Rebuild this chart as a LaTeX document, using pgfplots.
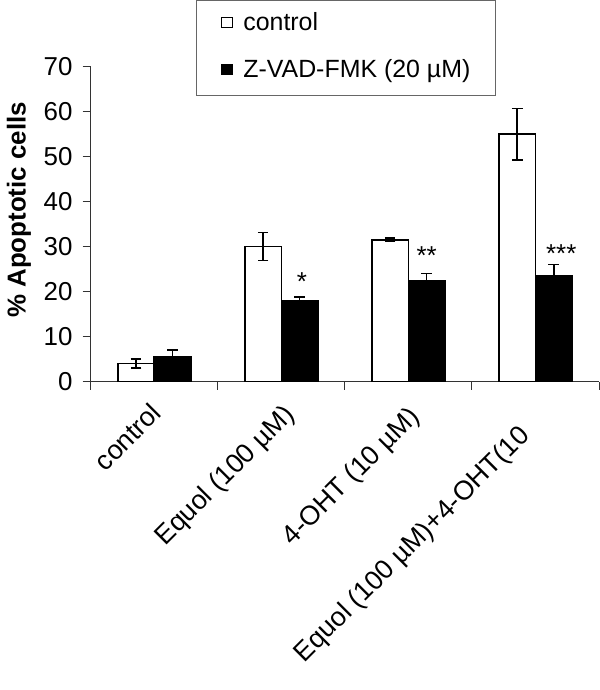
\documentclass[border=0pt]{standalone}
\usepackage{fontspec}
\setmainfont{Liberation Sans}
\usepackage{pgfplots}
\pgfplotsset{compat=1.18}
\begin{document}
\begin{tikzpicture}
\path[use as bounding box] (-90.7bp,-308.5bp) rectangle (509.3bp,381.5bp);
\begin{axis}[
  at={(0,0)}, anchor=south west,
  scale only axis, width=508.3bp, height=314.8bp,
  xmin=0, xmax=4, ymin=0, ymax=70,
  ybar=0pt, bar width=36.5bp,
  axis x line=bottom, axis y line=left,
  axis line style={-, line width=0.9bp, black!80},
  xtick={0,1,2,3,4}, xticklabels={},
  ytick={0,10,...,70},
  tick align=outside, major tick length=8bp,
  tick style={line width=0.9bp, black!80},
  /pgf/number format/assume math mode=true,
  yticklabel style={font=\fontsize{26}{30}\selectfont, inner sep=4bp, xshift=-6bp},
  ylabel={\% Apoptotic cells},
  ylabel style={font=\fontsize{26}{30}\selectfont\bfseries, at={(axis description cs:-0.141,0.545)}, anchor=center},
  clip=false,
  legend cell align=left,
  legend style={at={(axis description cs:0.2072,1.2119)}, anchor=north west,
    draw=black!60, line width=0.8bp, font=\fontsize{25}{29}\selectfont,
    inner xsep=25bp, inner ysep=12.5bp, row sep=24bp,
    nodes={inner sep=0pt, text height=18bp, text depth=5bp}},
  legend image code/.code={\draw[#1, line width=0.9bp] (0bp,-3.5bp) rectangle (10.7bp,7.2bp); \path (20.7bp,0bp);},
  error bars/y dir=both, error bars/y explicit,
  error bars/error bar style={line width=1.6bp, black, solid},
  error bars/error mark options={rotate=90, mark size=5.3bp, line width=1.6bp, black},
]
\addplot[fill=white, draw=black, line width=1.6bp]
  coordinates {(0.5,4) +- (0,1) (1.5,30) +- (0,3.1) (2.5,31.5) +- (0,0.4) (3.5,55) +- (0,5.7)};
\addlegendentry{control}
\addplot[fill=black, draw=black, line width=1.6bp]
  coordinates {(0.5,5.5) +- (0,1.5) (1.5,18) +- (0,0.8) (2.5,22.5) +- (0,1.5) (3.5,23.5) +- (0,2.5)};
\addlegendentry{Z-VAD-FMK (20 µM)}

\node[font=\fontsize{26}{30}\selectfont, anchor=base] at (axis cs:1.662,20.3) {*};
\node[font=\fontsize{26}{30}\selectfont, anchor=base] at (axis cs:2.644,26.0) {**};
\node[font=\fontsize{26}{30}\selectfont, anchor=base] at (axis cs:3.703,26.5) {***};

\node[rotate=45, anchor=north east, inner sep=0pt, font=\fontsize{27}{31}\selectfont] at (axis cs:0.458,-4.33) {control};
\node[rotate=45, anchor=north east, inner sep=0pt, font=\fontsize{27}{31}\selectfont] at (axis cs:1.506,-4.56) {Equol (100 µM)};
\node[rotate=45, anchor=north east, inner sep=0pt, font=\fontsize{27}{31}\selectfont] at (axis cs:2.489,-5.0) {4-OHT (10 µM)};
\node[rotate=45, anchor=north east, inner sep=0pt, font=\fontsize{27}{31}\selectfont] at (axis cs:3.354,-9.23) {Equol (100 µM)+4-OHT(10};
\end{axis}
\end{tikzpicture}
\end{document}
